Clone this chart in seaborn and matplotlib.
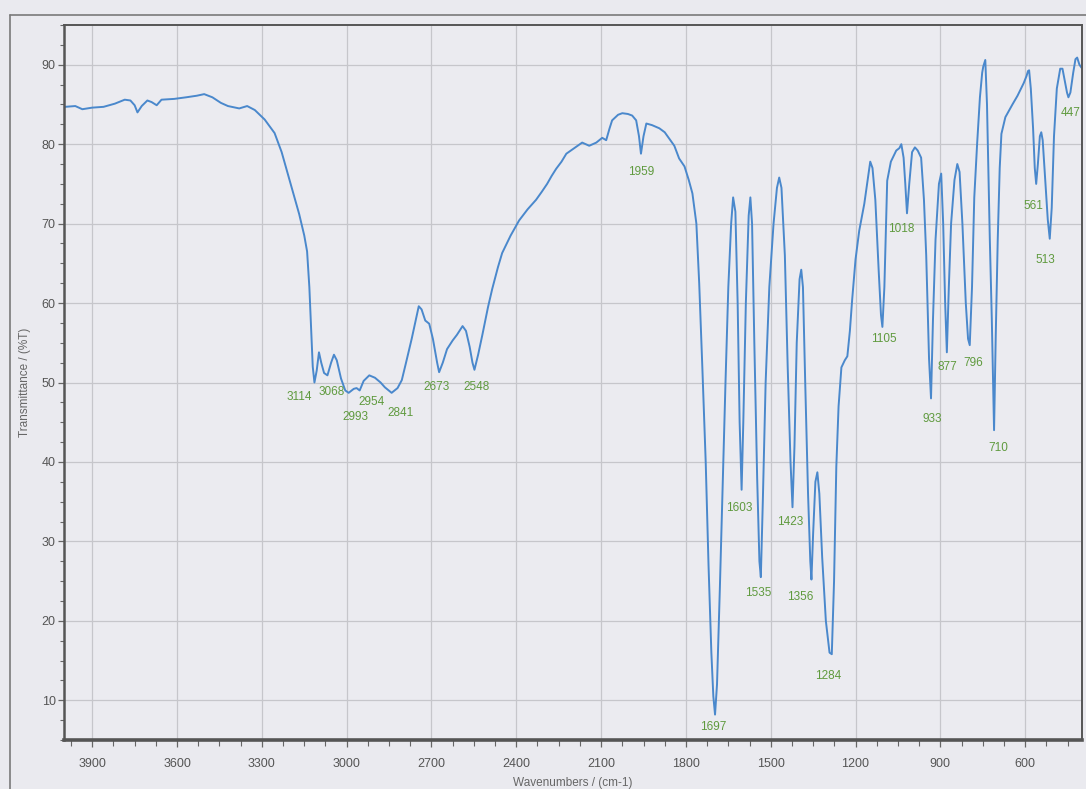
import matplotlib
matplotlib.use("Agg")
import matplotlib.pyplot as plt
import matplotlib.ticker as mticker
from matplotlib.lines import Line2D
import seaborn as sns
import pandas as pd

# FT-IR spectrum: wavenumber (cm-1) and transmittance (%T)
wavenumber = [
    3996, 3960, 3935, 3900, 3860, 3820, 3785, 3765, 3750, 3740, 3725, 3705, 3690,
    3672, 3655, 3610, 3568, 3530, 3504, 3475, 3445, 3420, 3380, 3352, 3325, 3290,
    3255, 3230, 3214, 3190, 3168, 3150, 3140, 3132, 3125, 3120, 3114, 3106, 3098,
    3090, 3080, 3068, 3055, 3045, 3035, 3020, 3005, 2993, 2975, 2965, 2954, 2940,
    2920, 2900, 2880, 2865, 2841, 2820, 2805, 2790, 2770, 2755, 2745, 2735, 2722,
    2708, 2695, 2680, 2673, 2660, 2645, 2625, 2610, 2590, 2578, 2565, 2555, 2548,
    2535, 2520, 2500, 2485, 2465, 2450, 2420, 2390, 2360, 2330, 2310, 2291, 2275,
    2259, 2240, 2223, 2195, 2167, 2142, 2117, 2096, 2082, 2070, 2061, 2040, 2025,
    2005, 1990, 1976, 1966, 1959, 1950, 1940, 1920, 1894, 1875, 1859, 1841, 1824,
    1805, 1790, 1777, 1763, 1753, 1742, 1730, 1720, 1710, 1703, 1697, 1690, 1680,
    1670, 1660, 1650, 1640, 1633, 1625, 1617, 1610, 1603, 1597, 1588, 1578, 1572,
    1566, 1558, 1548, 1540, 1535, 1528, 1518, 1505, 1490, 1478, 1470, 1462, 1450,
    1440, 1430, 1423, 1416, 1408, 1398, 1392, 1386, 1378, 1368, 1360, 1356, 1350,
    1342, 1335, 1328, 1318, 1305, 1292, 1284, 1276, 1268, 1260, 1250, 1238, 1229,
    1220, 1212, 1200, 1187, 1169, 1155, 1148, 1140, 1130, 1118, 1110, 1105, 1098,
    1088, 1075, 1056, 1045, 1038, 1030, 1024, 1018, 1010, 1000, 990, 980, 968,
    958, 950, 940, 933, 926, 917, 905, 897, 890, 883, 877, 870, 862, 850, 840,
    832, 822, 810, 802, 796, 788, 780, 770, 760, 752, 748, 741, 735, 725, 718,
    710, 704, 697, 690, 684, 670, 645, 627, 605, 595, 590, 586, 580, 572, 566,
    561, 555, 548, 543, 538, 530, 520, 513, 506, 498, 488, 476, 468, 460, 452,
    447, 440, 430, 422, 416, 408, 400,
]
transmittance = [
    84.7, 84.8, 84.4, 84.6, 84.7, 85.1, 85.6, 85.5, 84.9, 84.0, 84.8, 85.5, 85.3,
    84.9, 85.6, 85.7, 85.9, 86.1, 86.3, 85.9, 85.2, 84.8, 84.5, 84.8, 84.3, 83.1,
    81.4, 79.0, 77.0, 74.0, 71.2, 68.5, 66.5, 62.0, 56.0, 52.0, 50.0, 51.5, 53.8,
    52.5, 51.2, 50.9, 52.5, 53.5, 52.8, 50.5, 49.0, 48.7, 49.2, 49.3, 49.0, 50.2,
    50.9, 50.6, 50.0, 49.4, 48.7, 49.3, 50.3, 52.5, 55.5, 58.0, 59.6, 59.2, 57.8,
    57.4, 55.5, 52.5, 51.3, 52.5, 54.2, 55.3, 56.0, 57.1, 56.5, 54.5, 52.5, 51.6,
    53.5, 56.0, 59.5, 61.8, 64.5, 66.3, 68.5, 70.4, 71.8, 73.0, 74.0, 75.0, 76.0,
    76.9, 77.8, 78.8, 79.5, 80.2, 79.8, 80.2, 80.8, 80.5, 82.0, 83.0, 83.7, 83.9,
    83.8, 83.6, 83.0, 81.0, 78.8, 81.0, 82.6, 82.4, 82.0, 81.5, 80.7, 79.8, 78.2,
    77.2, 75.5, 73.8, 70.0, 62.5, 52.0, 40.0, 27.0, 16.0, 10.5, 8.2, 12.0, 24.0,
    37.0, 50.0, 62.0, 70.0, 73.3, 71.5, 60.0, 45.0, 36.5, 45.0, 60.0, 71.0, 73.3,
    70.0, 55.0, 38.0, 27.5, 25.5, 35.0, 50.0, 62.0, 70.0, 74.5, 75.8, 74.5, 66.0,
    52.0, 40.0, 34.3, 42.0, 55.0, 63.0, 64.2, 62.0, 50.0, 36.0, 27.5, 25.2, 31.0,
    37.5, 38.7, 36.0, 28.0, 20.0, 16.0, 15.8, 25.0, 39.4, 47.0, 51.9, 52.8, 53.3,
    56.5, 60.4, 65.5, 69.1, 72.5, 76.0, 77.8, 77.0, 73.0, 64.0, 58.5, 57.0, 62.0,
    75.4, 77.8, 79.2, 79.5, 80.0, 78.3, 75.0, 71.3, 75.0, 79.0, 79.6, 79.2, 78.3,
    73.0, 66.0, 53.0, 48.0, 58.0, 68.0, 75.0, 76.3, 70.0, 60.0, 53.8, 62.0, 70.0,
    75.5, 77.5, 76.5, 70.0, 60.0, 55.5, 54.7, 62.0, 73.3, 80.0, 85.9, 89.0, 89.8,
    90.6, 85.0, 68.0, 58.0, 44.0, 56.0, 68.0, 77.0, 81.3, 83.4, 85.0, 86.1, 87.7,
    88.6, 89.2, 89.3, 87.0, 82.0, 77.0, 75.0, 77.5, 81.0, 81.5, 80.5, 76.0, 70.5,
    68.1, 72.0, 81.0, 87.0, 89.5, 89.5, 88.0, 86.5, 85.9, 86.5, 89.0, 90.7, 90.9,
    90.0, 89.6,
]

# Labelled absorption bands (cm-1)
peak_wavenumbers = [3114, 3068, 2993, 2954, 2841, 2673, 2548, 1959, 1697, 1603,
                    1535, 1423, 1356, 1284, 1105, 1018, 933, 877, 796, 710,
                    561, 513, 447]
# Label offsets from each band minimum, in pixels (right, down)
label_offsets = [(-15, 14), (4, 17), (7, 24), (12, 12), (9, 20), (-3, 15),
                 (2, 17), (0, 18), (-2, 12), (-2, 18), (-3, 16), (-2, 15),
                 (-11, 17), (-4, 22), (1, 12), (-6, 16), (1, 21), (1, 15),
                 (3, 18), (4, 18), (-3, 22), (-4, 21), (2, 16)]

x_ticks = [3900, 3600, 3300, 3000, 2700, 2400, 2100, 1800, 1500, 1200, 900, 600]
y_ticks = [10, 20, 30, 40, 50, 60, 70, 80, 90]

spectrum = pd.DataFrame({"wn": wavenumber, "T": transmittance})

sns.set_theme(style="white")
plt.rcParams["font.family"] = ["Liberation Sans", "DejaVu Sans"]

bg = "#eaeaef"
fig = plt.figure(figsize=(10.86, 7.89), dpi=100, facecolor=bg)
ax = fig.add_axes([0.0589, 0.0621, 0.9374, 0.9062], facecolor="#ebebf0")

sns.lineplot(data=spectrum, x="wn", y="T", sort=False, estimator=None,
             color="#4a88cc", linewidth=1.4, ax=ax)

ax.set_xlim(4000, 399)
ax.set_ylim(5, 95)
ax.set_xticks(x_ticks)
ax.set_yticks(y_ticks)
ax.xaxis.set_minor_locator(mticker.AutoMinorLocator(4))
ax.yaxis.set_minor_locator(mticker.AutoMinorLocator(4))
ax.grid(True, which="major", color="#c6c6cb", linewidth=0.9)
ax.set_axisbelow(True)

ax.tick_params(axis="both", which="both", direction="out", colors="#666666",
               labelcolor="#555555", labelsize=9)
ax.tick_params(axis="x", which="major", length=5, width=0.9, pad=8)
ax.tick_params(axis="x", which="minor", length=4, width=0.8)
ax.tick_params(axis="y", which="major", length=4, width=0.9, pad=2)
ax.tick_params(axis="y", which="minor", length=3, width=0.8)
ax.tick_params(bottom=True, left=True, which="both")

for side, lw in (("left", 1.8), ("bottom", 2.6), ("top", 1.4), ("right", 1.4)):
    ax.spines[side].set_visible(True)
    ax.spines[side].set_color("#555555")
    ax.spines[side].set_linewidth(lw)

ax.set_xlabel("Wavenumbers / (cm-1)", fontsize=8.5, color="#666666", labelpad=5)
ax.set_ylabel("Transmittance / (%T)", fontsize=8.5, color="#666666", labelpad=8)

lookup = dict(zip(wavenumber, transmittance))
for wn, (dx, dy) in zip(peak_wavenumbers, label_offsets):
    ax.annotate(str(wn), xy=(wn, lookup[wn]), xytext=(dx, -dy),
                textcoords="offset pixels", ha="center", va="center",
                fontsize=8.5, color="#5f9a3e")

# Edge of the scanned sheet
fig.add_artist(Line2D([10 / 1086, 10 / 1086], [0, 1 - 15 / 789],
                      transform=fig.transFigure, color="#7a7a7a", linewidth=1.2))
fig.add_artist(Line2D([10 / 1086, 1], [1 - 15 / 789, 1 - 15 / 789],
                      transform=fig.transFigure, color="#7a7a7a", linewidth=1.2))

fig.savefig("out.png", dpi=100, facecolor=bg)
